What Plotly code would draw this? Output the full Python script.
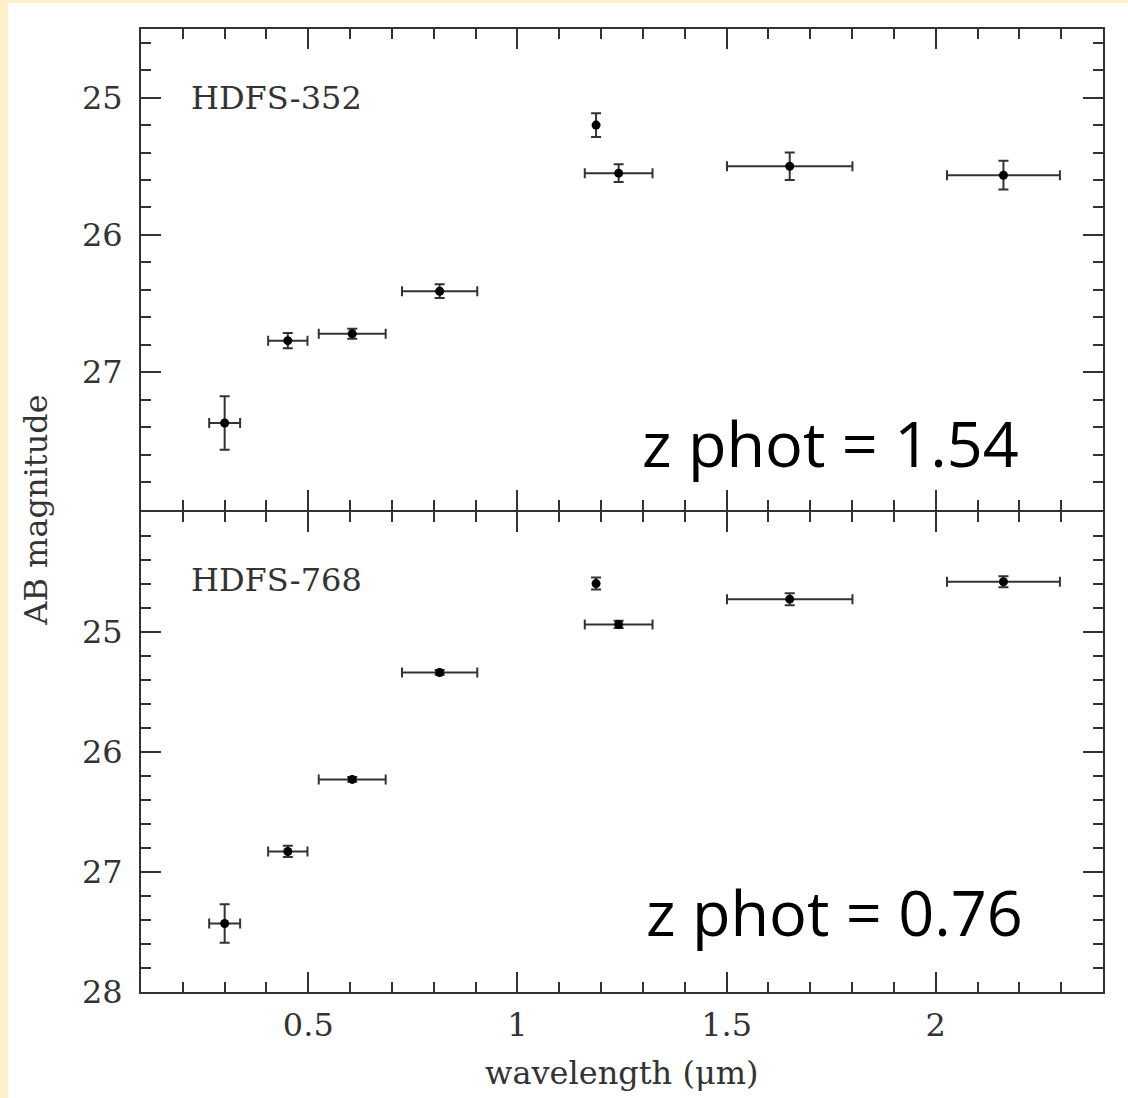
import plotly.graph_objects as go
from plotly.subplots import make_subplots

# ---- data ----
wavelength = [0.300, 0.451, 0.605, 0.814, 1.188, 1.242, 1.651, 2.162]
wavelength_err = [0.037, 0.047, 0.080, 0.090, None, 0.081, 0.150, 0.135]

mag_hdfs352 = [27.37, 26.77, 26.72, 26.41, 25.20, 25.55, 25.50, 25.565]
err_hdfs352 = [0.195, 0.056, 0.036, 0.050, 0.086, 0.064, 0.100, 0.105]

mag_hdfs768 = [27.43, 26.83, 26.23, 25.34, 24.60, 24.94, 24.73, 24.585]
err_hdfs768 = [0.160, 0.047, 0.020, 0.020, 0.050, 0.030, 0.050, 0.045]

names = ["HDFS-352", "HDFS-768"]
zphot = ["z phot = 1.54", "z phot = 0.76"]

INK = "#333333"
SERIF = "DejaVu Serif"
FS = 32

fig = make_subplots(rows=2, cols=1, shared_xaxes=True, vertical_spacing=0)

for row, (mags, errs) in enumerate([(mag_hdfs352, err_hdfs352), (mag_hdfs768, err_hdfs768)], start=1):
    fig.add_trace(go.Scatter(
        x=wavelength, y=mags, mode="markers",
        marker=dict(color="black", size=9, symbol="circle"),
        error_y=dict(type="data", array=errs, color=INK, thickness=2, width=5, visible=True),
        error_x=dict(type="data", array=wavelength_err, color=INK, thickness=2, width=5, visible=True),
        showlegend=False, hoverinfo="skip",
    ), row=row, col=1)

axis_common = dict(
    showline=True, linecolor=INK, linewidth=2, mirror="allticks",
    ticks="inside", ticklen=20, tickwidth=2, tickcolor=INK,
    showgrid=False, zeroline=False,
    tickfont=dict(family=SERIF, size=FS, color=INK),
)

fig.update_xaxes(**axis_common, range=[0.1, 2.4], tickmode="array",
                 tickvals=[0.5, 1, 1.5, 2], ticktext=["0.5", "1", "1.5", "2"],
                 minor=dict(ticks="inside", ticklen=10, tickwidth=2, tickcolor=INK,
                            tickmode="linear", tick0=0.1, dtick=0.1),
                 ticklabelstandoff=4)
fig.update_xaxes(showticklabels=False, row=1, col=1)

half = 1.0 / 963
fig.update_yaxes(**axis_common, row=1, col=1, range=[28, 24.5], tickmode="array",
                 tickvals=[25, 26, 27, 28], ticktext=["25", "26", "27", ""],
                 minor=dict(ticks="inside", ticklen=10, tickwidth=2, tickcolor=INK,
                            tickmode="linear", tick0=24, dtick=0.2),
                 ticklabelstandoff=10, domain=[0.5 + half, 1.0])
fig.update_yaxes(**axis_common, row=2, col=1, range=[28, 24], tickmode="array",
                 tickvals=[24, 25, 26, 27, 28], ticktext=["", "25", "26", "27", "28"],
                 minor=dict(ticks="inside", ticklen=10, tickwidth=2, tickcolor=INK,
                            tickmode="linear", tick0=24, dtick=0.2),
                 ticklabelstandoff=10, domain=[0.0, 0.5 - half])

# object names
fig.add_annotation(x=0.215, y=25.0, xref="x", yref="y", text=names[0], showarrow=False,
                   xanchor="left", yanchor="middle", font=dict(family=SERIF, size=FS, color=INK))
fig.add_annotation(x=0.215, y=24.57, xref="x2", yref="y2", text=names[1], showarrow=False,
                   xanchor="left", yanchor="middle", font=dict(family=SERIF, size=FS, color=INK))

# photometric redshift labels
fig.add_annotation(x=1.749, y=27.51, xref="x", yref="y", text=zphot[0], showarrow=False,
                   xanchor="center", yanchor="middle", font=dict(family="Open Sans", size=63, color="black"))
fig.add_annotation(x=1.758, y=27.33, xref="x2", yref="y2", text=zphot[1], showarrow=False,
                   xanchor="center", yanchor="middle", font=dict(family="Open Sans", size=63, color="black"))

# axis titles
fig.add_annotation(x=-0.110, y=0.5, xref="paper", yref="paper", text="AB magnitude", showarrow=False,
                   textangle=-90, xanchor="center", yanchor="middle",
                   font=dict(family=SERIF, size=FS, color=INK))
fig.add_annotation(x=0.5, y=-0.0841, xref="paper", yref="paper", text="wavelength (μm)", showarrow=False,
                   xanchor="center", yanchor="middle",
                   font=dict(family=SERIF, size=FS, color=INK))

# cream page border (left and top strips)
CREAM = "#FFF0C8"
fig.add_shape(type="rect", xref="paper", yref="paper", x0=(0 - 141) / 962, x1=(8 - 141) / 962,
              y0=(992 - 1098) / 963, y1=(992 - 0) / 963, fillcolor=CREAM, line_width=0, layer="below")
fig.add_shape(type="rect", xref="paper", yref="paper", x0=(0 - 141) / 962, x1=(1128 - 141) / 962,
              y0=(992 - 3) / 963, y1=(992 - 0) / 963, fillcolor=CREAM, line_width=0, layer="below")

fig.update_layout(
    width=1128, height=1098,
    margin=dict(l=141, r=25, t=29, b=106),
    paper_bgcolor="white", plot_bgcolor="white",
)

fig.write_html("out.html")
